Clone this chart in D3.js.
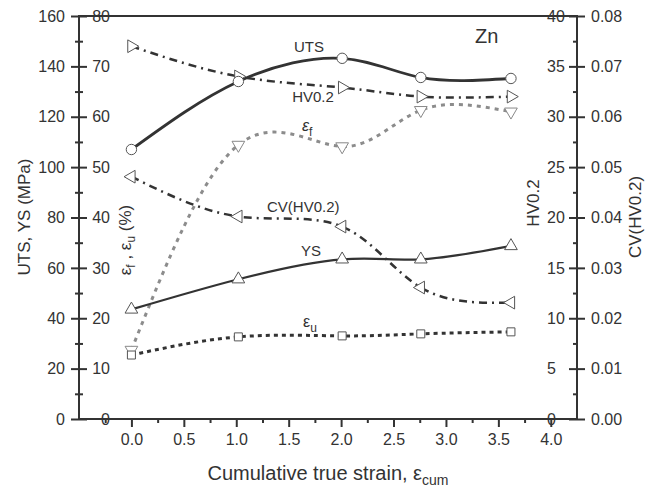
<!DOCTYPE html>
<html>
<head>
<meta charset="utf-8">
<script src="https://cdn.jsdelivr.net/npm/d3@7"></script>
<style>
body { margin: 0; background: #fff; }
text { font-family: Arial, "Liberation Sans", sans-serif; fill: #333; }
</style>
</head>
<body>
<div id="chart"></div>
<script>
var w = 661, h = 490;

// data
var strain = [0, 1.02, 2.01, 2.76, 3.62];
var uts = [107.0, 134.0, 143.2, 135.6, 135.2];
var ys = [43.5, 55.5, 63.4, 63.4, 68.7];
var epsF = [13.7, 54.4, 54.1, 61.3, 61.0];
var epsU = [12.7, 16.3, 16.5, 16.9, 17.3];
var hv = [37.0, 34.0, 32.9, 32.0, 32.0];
var cv = [0.0481, 0.0402, 0.0382, 0.0261, 0.0231];

var xTicks = [0, 0.5, 1, 1.5, 2, 2.5, 3, 3.5, 4];
var xMinor = [-0.25, 0.25, 0.75, 1.25, 1.75, 2.25, 2.75, 3.25, 3.75];
var mpaTicks = [0, 20, 40, 60, 80, 100, 120, 140, 160];
var mpaMinor = [10, 30, 50, 70, 90, 110, 130, 150];
var pctTicks = [0, 10, 20, 30, 40, 50, 60, 70, 80];
var hvTicks = [0, 5, 10, 15, 20, 25, 30, 35, 40];
var hvMinor = [2.5, 7.5, 12.5, 17.5, 22.5, 27.5, 32.5, 37.5];
var cvTicks = [0, 0.01, 0.02, 0.03, 0.04, 0.05, 0.06, 0.07, 0.08];

var padL = 79, padR = 577, padT = 16, padB = 419;
var ink = "#333";

var svg = d3.select("#chart").append("svg").attr("width", w).attr("height", h);

var x = d3.scaleLinear().domain([-0.5, 4.25]).range([padL, padR]);
var yL = d3.scaleLinear().domain([0, 160]).range([padB, padT]);
var yE = d3.scaleLinear().domain([0, 80]).range([padB, padT]);
var yH = d3.scaleLinear().domain([0, 40]).range([padB, padT]);
var yC = d3.scaleLinear().domain([0, 0.08]).range([padB, padT]);

function styleAxis(g) {
    g.select(".domain").remove();
    g.selectAll("line").attr("stroke", ink).attr("stroke-width", 2);
    g.selectAll("text").attr("font-size", "16px").attr("fill", ink).style("font-family", "Arial, 'Liberation Sans', sans-serif");
}

// left outer axis (MPa)
var gL = svg.append("g").attr("transform", "translate(" + padL + ",0)")
    .call(d3.axisLeft(yL).tickValues(mpaTicks).tickSize(8).tickPadding(6).tickFormat(d3.format("d")));
styleAxis(gL);
// left inner axis (%)
var gE = svg.append("g").attr("transform", "translate(" + padL + ",0)")
    .call(d3.axisRight(yE).tickValues(pctTicks).tickSize(8).tickFormat(d3.format("d")));
styleAxis(gE);
gE.selectAll("text").attr("text-anchor", "end").attr("x", 31);
var gLm = svg.append("g").attr("transform", "translate(" + (padL + 4) + ",0)")
    .call(d3.axisLeft(yL).tickValues(mpaMinor).tickSize(8).tickFormat(""));
styleAxis(gLm);

// right inner axis (HV0.2)
var gH = svg.append("g").attr("transform", "translate(" + padR + ",0)")
    .call(d3.axisLeft(yH).tickValues(hvTicks).tickSize(8).tickFormat(d3.format("d")));
styleAxis(gH);
gH.selectAll("text").attr("text-anchor", "start").attr("x", -30);
var gHm = svg.append("g").attr("transform", "translate(" + padR + ",0)")
    .call(d3.axisLeft(yH).tickValues(hvMinor).tickSize(4).tickFormat(""));
styleAxis(gHm);
// right outer axis (CV)
var gC = svg.append("g").attr("transform", "translate(" + padR + ",0)")
    .call(d3.axisRight(yC).tickValues(cvTicks).tickSize(8).tickPadding(6).tickFormat(d3.format(".2f")));
styleAxis(gC);

// bottom axis
var gX = svg.append("g").attr("transform", "translate(0," + padB + ")")
    .call(d3.axisBottom(x).tickValues(xTicks).tickSize(8).tickFormat(d3.format(".1f")));
styleAxis(gX);
gX.selectAll("text").attr("y", 26).attr("dy", 0);
var gXm = svg.append("g").attr("transform", "translate(0," + padB + ")")
    .call(d3.axisBottom(x).tickValues(xMinor).tickSize(4).tickFormat(""));
styleAxis(gXm);

// frame
svg.append("rect").attr("x", padL).attr("y", padT).attr("width", padR - padL).attr("height", padB - padT)
    .attr("fill", "none").attr("stroke", ink).attr("stroke-width", 2);

// series
var series = [
    { v: epsF, y: yE, color: "#8c8c8c", dash: "4,5", width: 3, sym: d3.symbolTriangle, rot: 180, mk: "#888" },
    { v: hv, y: yH, color: ink, dash: "8,5,2,5", width: 2.5, sym: d3.symbolTriangle, rot: 90, mk: "#555" },
    { v: cv, y: yC, color: ink, dash: "8,5,2,5", width: 2.5, sym: d3.symbolTriangle, rot: -90, mk: "#555" },
    { v: epsU, y: yE, color: ink, dash: "4,4", width: 3, sym: d3.symbolSquare, rot: 0, mk: "#555" },
    { v: ys, y: yL, color: ink, dash: null, width: 2.2, sym: d3.symbolTriangle, rot: 0, mk: "#555" },
    { v: uts, y: yL, color: ink, dash: null, width: 2.8, sym: d3.symbolCircle, rot: 0, mk: "#555" }
];

series.forEach(function (s) {
    var pts = strain.map(function (d, i) { return [x(d), s.y(s.v[i])]; });
    var line = d3.line().curve(d3.curveNatural);
    svg.append("path").attr("d", line(pts)).attr("fill", "none")
        .attr("stroke", s.color).attr("stroke-width", s.width)
        .attr("stroke-dasharray", s.dash);
});

series.forEach(function (s) {
    var size = s.sym == d3.symbolCircle ? 85 : (s.sym == d3.symbolSquare ? 64 : 70);
    strain.forEach(function (d, i) {
        svg.append("path").attr("d", d3.symbol().type(s.sym).size(size)())
            .attr("transform", "translate(" + x(d) + "," + s.y(s.v[i]) + ") rotate(" + s.rot + ")")
            .attr("fill", "white").attr("stroke", s.mk).attr("stroke-width", 1);
    });
});

// in-plot labels
function label(tx, ty, str, anchor) {
    return svg.append("text").attr("x", tx).attr("y", ty).attr("font-size", "15px")
        .attr("text-anchor", anchor || "start").text(str);
}
label(309, 52, "UTS", "middle");
label(313, 102, "HV0.2", "middle");
label(267, 212, "CV(HV0.2)");
label(311, 256, "YS", "middle");

var ef = svg.append("text").attr("x", 302).attr("y", 131).attr("font-size", "16px");
ef.append("tspan").attr("font-style", "italic").text("ε");
ef.append("tspan").attr("font-size", "12px").attr("dy", 5).text("f");

var eu = svg.append("text").attr("x", 303).attr("y", 327).attr("font-size", "16px");
eu.append("tspan").text("ε");
eu.append("tspan").attr("font-size", "12px").attr("dy", 5).text("u");

svg.append("text").attr("x", 475).attr("y", 43).attr("font-size", "20px").text("Zn");

// axis titles
svg.append("text").attr("transform", "translate(30,217) rotate(-90)").attr("text-anchor", "middle")
    .attr("font-size", "17px").text("UTS, YS (MPa)");

var te = svg.append("text").attr("transform", "translate(131,240) rotate(-90)").attr("text-anchor", "middle")
    .attr("font-size", "17px");
te.append("tspan").text("ε");
te.append("tspan").attr("font-size", "12px").attr("dy", 4).text("f");
te.append("tspan").attr("dy", -4).text(" , ε");
te.append("tspan").attr("font-size", "12px").attr("dy", 4).text("u");
te.append("tspan").attr("dy", -4).text(" (%)");

svg.append("text").attr("transform", "translate(539,203) rotate(-90)").attr("text-anchor", "middle")
    .attr("font-size", "17px").text("HV0.2");
svg.append("text").attr("transform", "translate(641,217) rotate(-90)").attr("text-anchor", "middle")
    .attr("font-size", "17px").text("CV(HV0.2)");

var tx = svg.append("text").attr("x", 328).attr("y", 480).attr("text-anchor", "middle").attr("font-size", "20px");
tx.append("tspan").text("Cumulative true strain, ε");
tx.append("tspan").attr("font-size", "14px").attr("dy", 5).text("cum");
</script>
</body>
</html>
